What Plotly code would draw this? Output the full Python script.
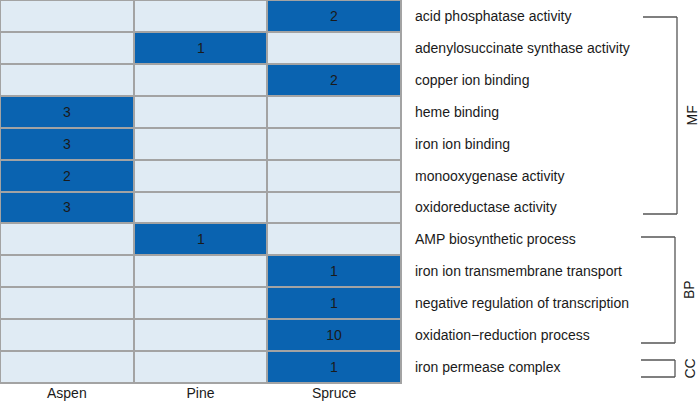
import plotly.graph_objects as go

# --- chart data ---
species = ["Aspen", "Pine", "Spruce"]
go_terms = [
    "acid phosphatase activity",
    "adenylosuccinate synthase activity",
    "copper ion binding",
    "heme binding",
    "iron ion binding",
    "monooxygenase activity",
    "oxidoreductase activity",
    "AMP biosynthetic process",
    "iron ion transmembrane transport",
    "negative regulation of transcription",
    "oxidation\u2212reduction process",
    "iron permease complex",
]
aspen = [0, 0, 0, 3, 3, 2, 3, 0, 0, 0, 0, 0]
pine = [0, 1, 0, 0, 0, 0, 0, 1, 0, 0, 0, 0]
spruce = [2, 0, 2, 0, 0, 0, 0, 0, 1, 1, 10, 1]
# category groups: (label, first row, last row)
groups = [("MF", 0, 6), ("BP", 7, 10), ("CC", 11, 11)]

z = [[a, p, s] for a, p, s in zip(aspen, pine, spruce)]
cell_text = [[str(v) if v else "" for v in row] for row in z]

light = "#e0ebf4"
dark = "#0a63b0"
grid = "#a3a3a3"
font = "Liberation Sans, Arial, sans-serif"
fsize = 14

fig = go.Figure(
    go.Heatmap(
        z=z,
        x=species,
        y=go_terms,
        text=cell_text,
        texttemplate="%{text}",
        textfont=dict(size=fsize, color="#1a1a1a", family=font),
        colorscale=[[0, light], [0.05, light], [0.05, dark], [1, dark]],
        zmin=0,
        zmax=10,
        showscale=False,
        xgap=2,
        ygap=2,
        hoverinfo="skip",
    )
)

# outer border of the grid
fig.add_shape(
    type="rect", xref="paper", yref="paper", x0=0, x1=1, y0=0, y1=1,
    line=dict(color=grid, width=2),
)

# row labels on the right
for term in go_terms:
    fig.add_annotation(
        x=413 / 401, xref="paper", y=term, yref="y", text=term,
        xanchor="left", showarrow=False,
        font=dict(size=fsize, color="#1a1a1a", family=font),
    )

# group brackets (pixel positions)
bracket_px = {"MF": (17, 214, 643, 677), "BP": (237, 343, 641, 675), "CC": (360, 377, 641, 675)}
for label, first, last in groups:
    top, bot, xl, xr = bracket_px[label]
    y0 = 1 - top / 383
    y1 = 1 - bot / 383
    x0 = xl / 401
    x1 = xr / 401
    line = dict(color="#555555", width=1.3)
    fig.add_shape(type="line", xref="paper", yref="paper", x0=x0, x1=x1, y0=y0, y1=y0, line=line)
    fig.add_shape(type="line", xref="paper", yref="paper", x0=x1, x1=x1, y0=y0, y1=y1, line=line)
    fig.add_shape(type="line", xref="paper", yref="paper", x0=x0, x1=x1, y0=y1, y1=y1, line=line)
    fig.add_annotation(
        x=(xr + 14) / 401, xref="paper", y=(y0 + y1) / 2, yref="paper", text=label,
        textangle=-90, showarrow=False, xanchor="center", yanchor="middle",
        font=dict(size=fsize, color="#1a1a1a", family=font),
    )

fig.update_layout(
    width=700,
    height=401,
    margin=dict(l=0, r=299, t=0, b=18),
    plot_bgcolor=grid,
    paper_bgcolor="white",
    font=dict(family=font, size=fsize, color="#1a1a1a"),
    xaxis=dict(showgrid=False, zeroline=False, ticks="", ticklabelstandoff=0,
               automargin=False, tickfont=dict(size=fsize, color="#1a1a1a")),
    yaxis=dict(autorange="reversed", showgrid=False, zeroline=False,
               automargin=False, showticklabels=False, ticks=""),
)

fig.write_html(
    "out.html",
    config={"displayModeBar": False},
    post_script="document.body.style.margin='0';",
)
